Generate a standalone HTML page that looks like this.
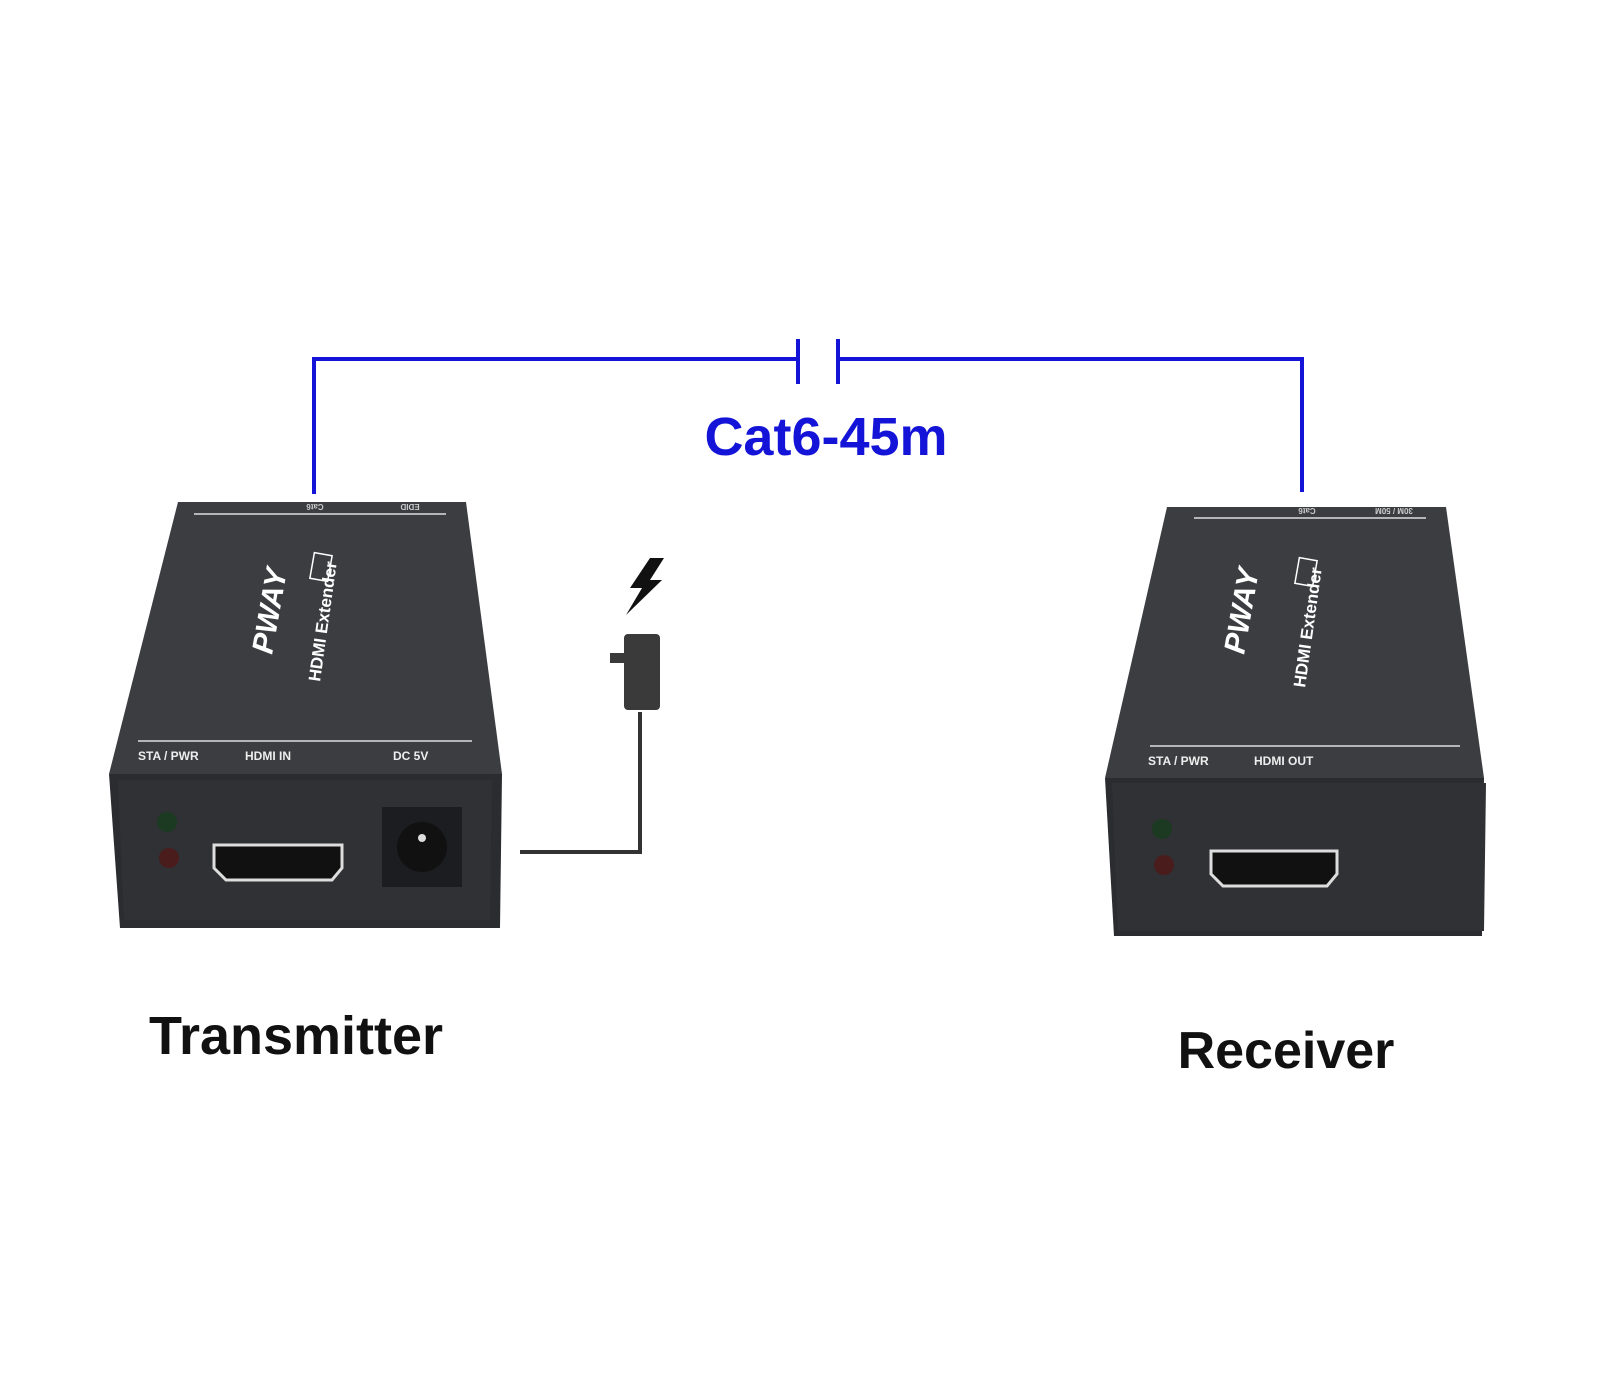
<!DOCTYPE html>
<html><head><meta charset="utf-8"><style>
html,body{margin:0;padding:0;background:#fff;}
svg{display:block;}
</style></head><body>
<svg width="1600" height="1400" viewBox="0 0 1600 1400" xmlns="http://www.w3.org/2000/svg" font-family="Liberation Sans, sans-serif">
<rect width="1600" height="1400" fill="#fff"/>
<!-- blue cable -->
<g stroke="#1414d8" stroke-width="4" fill="none">
<polyline points="314,494 314,359 798,359"/>
<polyline points="838,359 1302,359 1302,492"/>
<line x1="798" y1="339" x2="798" y2="384"/>
<line x1="838" y1="339" x2="838" y2="384"/>
</g>
<text x="826" y="455" font-size="54" font-weight="bold" fill="#1414d8" text-anchor="middle">Cat6-45m</text>

<!-- Transmitter -->
<polygon points="178,502 466,502 502,774 109,774" fill="#3b3d41"/>
<polygon points="109,774 502,774 500,928 120,928" fill="#2a2c30"/>
<polygon points="118,780 492,780 490,920 124,920" fill="#2f3135"/>
<line x1="194" y1="514" x2="446" y2="514" stroke="#ddd" stroke-width="1.5"/>
<line x1="138" y1="741" x2="472" y2="741" stroke="#ddd" stroke-width="1.5"/>
<text x="138" y="760" font-size="12" font-weight="bold" fill="#eee">STA / PWR</text>
<text x="245" y="760" font-size="12" font-weight="bold" fill="#eee">HDMI IN</text>
<text x="393" y="760" font-size="12" font-weight="bold" fill="#eee">DC 5V</text>
<text x="315" y="510" font-size="8" font-weight="bold" fill="#ccc" transform="rotate(180 315 507)" text-anchor="middle">Cat6</text>
<text x="410" y="510" font-size="8" font-weight="bold" fill="#ccc" transform="rotate(180 410 507)" text-anchor="middle">EDID</text>
<text transform="translate(272,655) rotate(-80)" font-size="30" font-weight="bold" font-style="italic" fill="#fff">PWAY</text>
<text transform="translate(320,682) rotate(-82)" font-size="17" font-weight="bold" fill="#fff">HDMI Extender</text>
<rect x="308" y="558" width="26" height="18" fill="none" stroke="#fff" stroke-width="1.5" transform="rotate(-80 321 567)"/>
<circle cx="167" cy="822" r="10" fill="#1c3a22"/>
<circle cx="169" cy="858" r="10" fill="#4a1c1c"/>
<path d="M214,845 L342,845 L342,868 L332,880 L226,880 L214,868 Z" fill="#111" stroke="#ddd" stroke-width="3"/>
<rect x="382" y="807" width="80" height="80" fill="#1c1d20"/>
<circle cx="422" cy="847" r="25" fill="#111"/>
<circle cx="422" cy="838" r="4" fill="#ddd"/>
<!-- power adapter -->
<polyline points="520,852 640,852 640,712" fill="none" stroke="#333" stroke-width="4"/>
<rect x="624" y="634" width="36" height="76" rx="4" fill="#3a3a3a"/>
<rect x="610" y="653" width="16" height="10" fill="#3a3a3a"/>
<polygon points="650,558 630,588 642,588 626,615 662,580 650,580 664,558" fill="#111"/>

<!-- Receiver -->
<polygon points="1167,507 1446,507 1484,778 1105,778" fill="#3b3d41"/>
<polygon points="1105,778 1484,778 1482,936 1114,936" fill="#2a2c30"/>
<polygon points="1112,783 1486,783 1484,931 1118,931" fill="#2f3135"/>
<line x1="1194" y1="518" x2="1426" y2="518" stroke="#ddd" stroke-width="1.5"/>
<line x1="1150" y1="746" x2="1460" y2="746" stroke="#ddd" stroke-width="1.5"/>
<text x="1148" y="765" font-size="12" font-weight="bold" fill="#eee">STA / PWR</text>
<text x="1254" y="765" font-size="12" font-weight="bold" fill="#eee">HDMI OUT</text>
<text x="1307" y="514" font-size="8" font-weight="bold" fill="#ccc" transform="rotate(180 1307 511)" text-anchor="middle">Cat6</text>
<text x="1394" y="514" font-size="8" font-weight="bold" fill="#ccc" transform="rotate(180 1394 511)" text-anchor="middle">30M / 50M</text>
<text transform="translate(1244,655) rotate(-80)" font-size="30" font-weight="bold" font-style="italic" fill="#fff">PWAY</text>
<text transform="translate(1305,688) rotate(-82)" font-size="17" font-weight="bold" fill="#fff">HDMI Extender</text>
<rect x="1293" y="563" width="26" height="18" fill="none" stroke="#fff" stroke-width="1.5" transform="rotate(-80 1306 572)"/>
<circle cx="1162" cy="829" r="10" fill="#1c3a22"/>
<circle cx="1164" cy="865" r="10" fill="#4a1c1c"/>
<path d="M1211,851 L1337,851 L1337,874 L1327,886 L1223,886 L1211,874 Z" fill="#111" stroke="#ddd" stroke-width="3"/>

<text x="296" y="1054" font-size="54" font-weight="bold" fill="#111" text-anchor="middle">Transmitter</text>
<text x="1286" y="1068" font-size="52" font-weight="bold" fill="#111" text-anchor="middle">Receiver</text>
</svg>
</body></html>
